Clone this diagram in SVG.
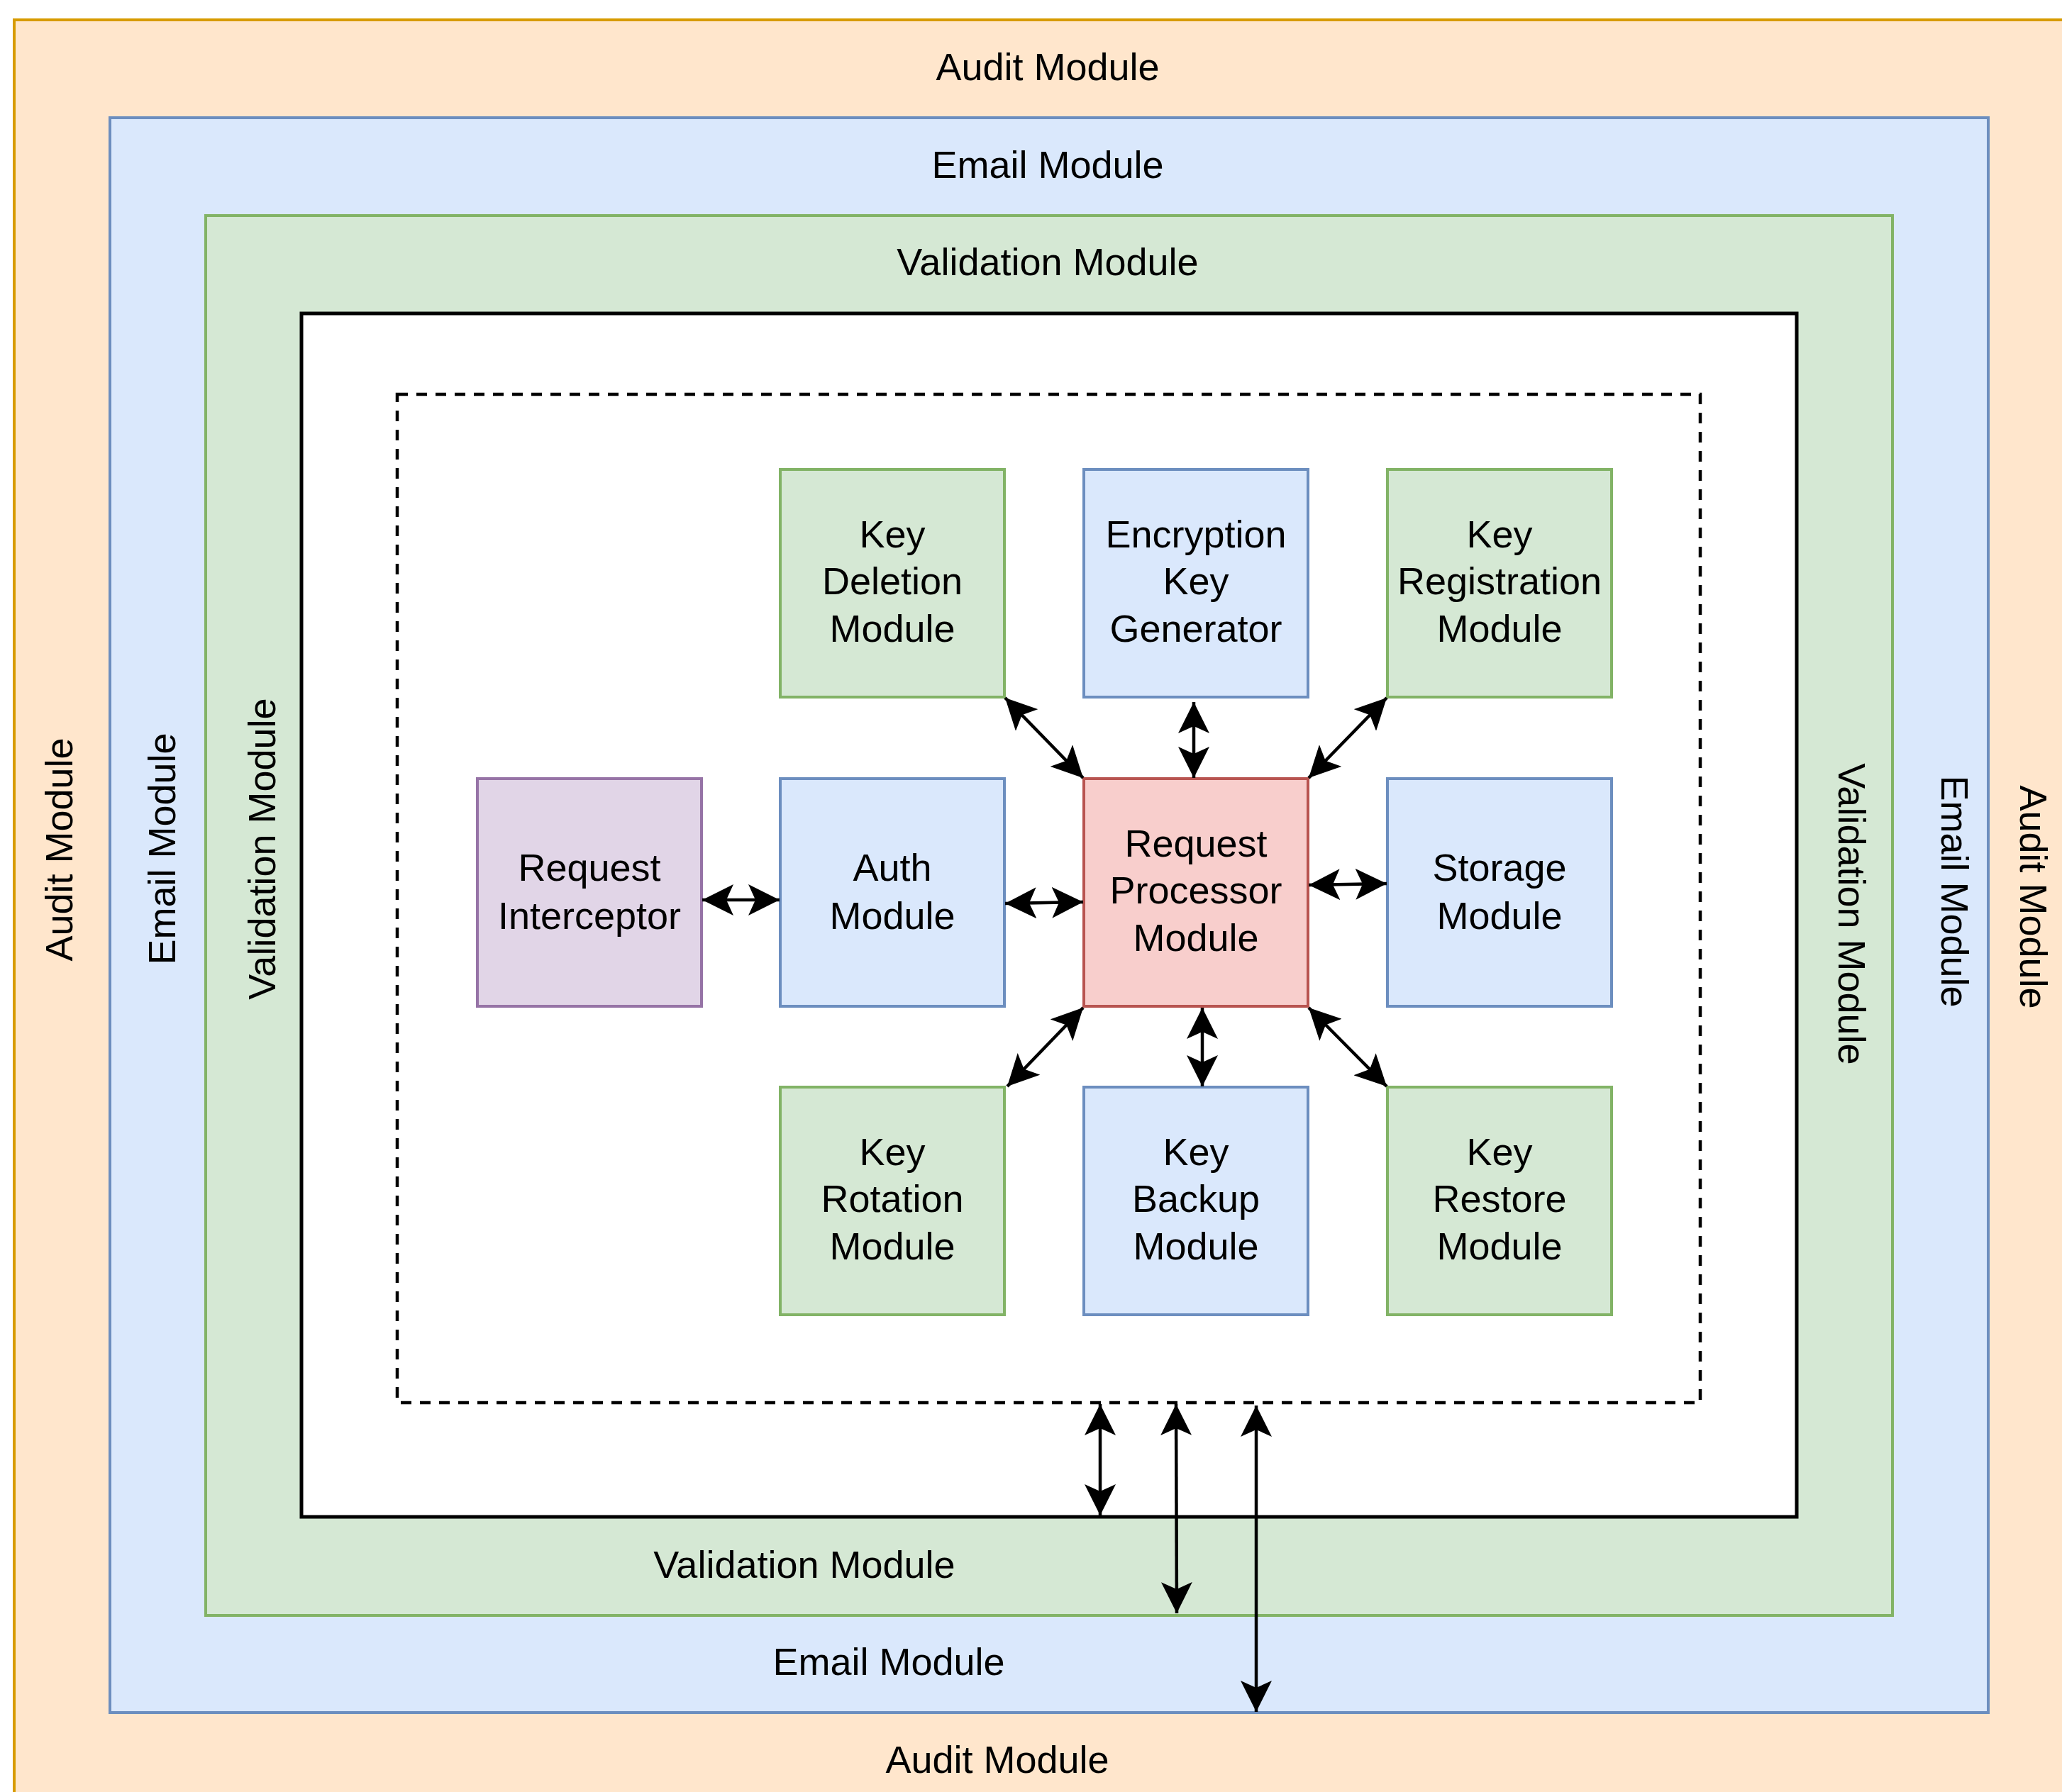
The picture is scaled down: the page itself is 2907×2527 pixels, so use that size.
<svg xmlns="http://www.w3.org/2000/svg" width="2907" height="2527" viewBox="0 0 2907 2527">
<defs>
<style>
text{font-family:"Liberation Sans",Arial,Helvetica,sans-serif;font-size:54px;fill:#000;text-anchor:middle}
.orange{fill:#ffe6cc;stroke:#d79b00;stroke-width:4}
.blue{fill:#dae8fc;stroke:#6c8ebf;stroke-width:4}
.green{fill:#d5e8d4;stroke:#82b366;stroke-width:4}
.red{fill:#f8cecc;stroke:#b85450;stroke-width:4}
.purple{fill:#e1d5e7;stroke:#9673a6;stroke-width:4}
.black{fill:#fff;stroke:#000;stroke-width:5}
.dash{fill:none;stroke:#000;stroke-width:4.5;stroke-dasharray:15 12}
.conn line{stroke:#000;stroke-width:4.5;marker-start:url(#arr);marker-end:url(#arr)}
</style>
<marker id="arr" markerUnits="userSpaceOnUse" markerWidth="44" markerHeight="44" viewBox="0 0 44 44" refX="44" refY="22" orient="auto-start-reverse">
<path d="M44,22 L0,0 L10,22 L0,44 Z" fill="#000"/>
</marker>
</defs>
<g id="audit-module">
<rect class="orange" x="20" y="28" width="2930" height="2560"/>
<text x="1477" y="113">Audit Module</text>
<text x="1406" y="2500">Audit Module</text>
<text transform="translate(102,1198) rotate(-90)">Audit Module</text>
<text transform="translate(2848,1265) rotate(90)">Audit Module</text>
</g>
<g id="email-module">
<rect class="blue" x="155" y="166" width="2648" height="2249"/>
<text x="1477" y="251">Email Module</text>
<text x="1253" y="2362">Email Module</text>
<text transform="translate(247,1197) rotate(-90)">Email Module</text>
<text transform="translate(2737,1257) rotate(90)">Email Module</text>
</g>
<g id="validation-module">
<rect class="green" x="290" y="304" width="2378" height="1974"/>
<text x="1477" y="388">Validation Module</text>
<text x="1134" y="2225">Validation Module</text>
<text transform="translate(388,1197) rotate(-90)">Validation Module</text>
<text transform="translate(2592,1289) rotate(90)">Validation Module</text>
</g>
<g id="inner-container">
<rect class="black" x="425" y="442" width="2108" height="1697"/>
</g>
<g id="dashed-boundary">
<rect class="dash" x="560" y="556" width="1837" height="1422"/>
</g>
<g id="key-deletion">
<rect class="green" x="1100" y="662" width="316" height="321"/>
<text x="1258" y="772">Key</text><text x="1258" y="838">Deletion</text><text x="1258" y="905">Module</text>
</g>
<g id="encryption-key-generator">
<rect class="blue" x="1528" y="662" width="316" height="321"/>
<text x="1686" y="772">Encryption</text><text x="1686" y="838">Key</text><text x="1686" y="905">Generator</text>
</g>
<g id="key-registration">
<rect class="green" x="1956" y="662" width="316" height="321"/>
<text x="2114" y="772">Key</text><text x="2114" y="838">Registration</text><text x="2114" y="905">Module</text>
</g>
<g id="request-interceptor">
<rect class="purple" x="673" y="1098" width="316" height="321"/>
<text x="831" y="1242">Request</text><text x="831" y="1310">Interceptor</text>
</g>
<g id="auth-module">
<rect class="blue" x="1100" y="1098" width="316" height="321"/>
<text x="1258" y="1242">Auth</text><text x="1258" y="1310">Module</text>
</g>
<g id="request-processor">
<rect class="red" x="1528" y="1098" width="316" height="321"/>
<text x="1686" y="1208">Request</text><text x="1686" y="1274">Processor</text><text x="1686" y="1341">Module</text>
</g>
<g id="storage-module">
<rect class="blue" x="1956" y="1098" width="316" height="321"/>
<text x="2114" y="1242">Storage</text><text x="2114" y="1310">Module</text>
</g>
<g id="key-rotation">
<rect class="green" x="1100" y="1533" width="316" height="321"/>
<text x="1258" y="1643">Key</text><text x="1258" y="1709">Rotation</text><text x="1258" y="1776">Module</text>
</g>
<g id="key-backup">
<rect class="blue" x="1528" y="1533" width="316" height="321"/>
<text x="1686" y="1643">Key</text><text x="1686" y="1709">Backup</text><text x="1686" y="1776">Module</text>
</g>
<g id="key-restore">
<rect class="green" x="1956" y="1533" width="316" height="321"/>
<text x="2114" y="1643">Key</text><text x="2114" y="1709">Restore</text><text x="2114" y="1776">Module</text>
</g>
<g id="connectors" class="conn">
<line x1="990" y1="1269" x2="1099" y2="1269"/>
<line x1="1417" y1="1274" x2="1527" y2="1272"/>
<line x1="1845" y1="1248" x2="1955" y2="1246"/>
<line x1="1417" y1="984" x2="1527" y2="1097"/>
<line x1="1683" y1="990" x2="1683" y2="1097"/>
<line x1="1955" y1="984" x2="1845" y2="1097"/>
<line x1="1527" y1="1421" x2="1420" y2="1532"/>
<line x1="1695" y1="1421" x2="1695" y2="1532"/>
<line x1="1845" y1="1421" x2="1955" y2="1532"/>
<line x1="1551" y1="1980" x2="1551" y2="2137"/>
<line x1="1658" y1="1980" x2="1659" y2="2275"/>
<line x1="1771" y1="1982" x2="1771" y2="2414"/>
</g>
</svg>
